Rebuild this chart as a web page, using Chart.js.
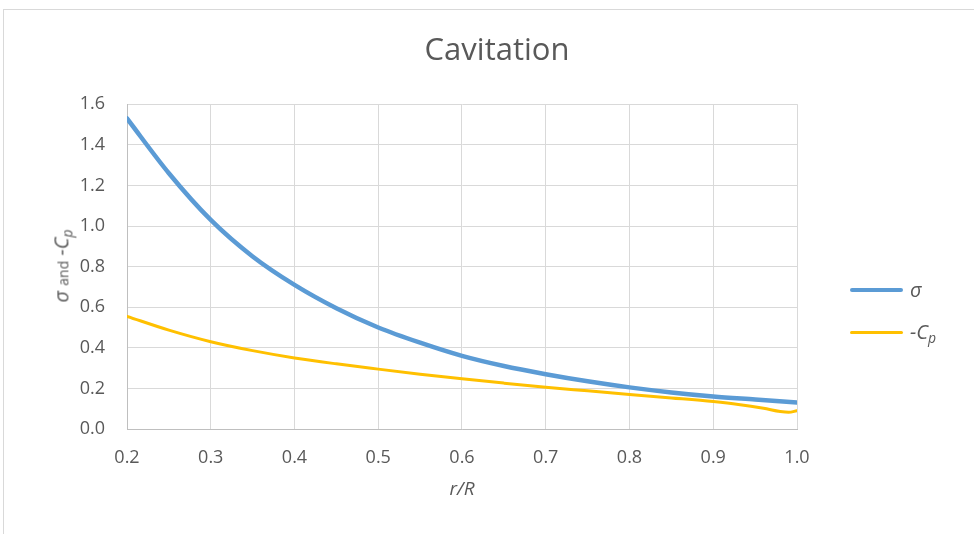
<!DOCTYPE html>
<html lang="en">
<head>
    <meta charset="UTF-8">
    <title>Cavitation</title>
    <script src="https://cdn.jsdelivr.net/npm/chart.js"></script>
    <style>
        * {
            margin: 0;
            padding: 0;
            box-sizing: border-box;
        }

        body {
            width: 974px;
            height: 534px;
            overflow: hidden;
            background: #fff;
            font-family: "Open Sans", sans-serif;
            color: #595959;
        }

        .frame {
            position: absolute;
            left: 3px;
            top: 9px;
            width: 1000px;
            height: 600px;
            border: 1px solid #d9d9d9;
        }

        .wrap {
            position: absolute;
            left: 0;
            top: 0;
            width: 974px;
            height: 534px;
        }

        .ytitle {
            position: absolute;
            left: 62px;
            top: 266px;
            transform: translate(-50%, -50%) rotate(-90deg);
            white-space: nowrap;
            font-size: 20px;
        }

        .ytitle .small { font-size: 14px; font-style: normal; }
        .it { font-style: italic; }
        sub { font-size: 0.7em; vertical-align: -0.3em; }

        .legend {
            position: absolute;
            left: 850px;
            top: 268px;
        }

        .legend .item {
            display: flex;
            align-items: center;
            height: 43px;
            font-size: 20px;
        }

        .legend .swatch {
            width: 53px;
            height: 4px;
            border-radius: 2px;
            margin-right: 7px;
        }
    </style>
</head>
<body>
    <div class="frame"></div>
    <div class="wrap"><canvas id="cavChart" width="974" height="534"></canvas></div>
    <div class="ytitle"><span class="it">σ</span> <span class="small">and</span> <span class="it">-C<sub>p</sub></span></div>
    <div class="legend">
        <div class="item"><div class="swatch" style="background:#5b9bd5"></div><span class="it">σ</span></div>
        <div class="item"><div class="swatch" style="background:#ffc000;height:3px"></div><span class="it">-C<sub>p</sub></span></div>
    </div>

    <script>
        // values
        const rR = [0.2, 0.25, 0.3, 0.35, 0.4, 0.45, 0.5, 0.55, 0.6, 0.65, 0.7, 0.75, 0.8, 0.85, 0.9, 0.95, 1.0];
        const sigma = [1.53, 1.26, 1.03, 0.85, 0.71, 0.595, 0.50, 0.425, 0.36, 0.31, 0.27, 0.235, 0.205, 0.18, 0.16, 0.145, 0.13];

        const rRcp = [0.2, 0.25, 0.3, 0.35, 0.4, 0.45, 0.5, 0.55, 0.6, 0.65, 0.7, 0.75, 0.8, 0.85, 0.9, 0.93, 0.96, 0.98, 0.99, 1.0];
        const minusCp = [0.555, 0.487, 0.43, 0.386, 0.35, 0.321, 0.295, 0.27, 0.247, 0.226, 0.206, 0.188, 0.17, 0.153, 0.135, 0.121, 0.102, 0.086, 0.082, 0.09];

        const xTicks = [0.2, 0.3, 0.4, 0.5, 0.6, 0.7, 0.8, 0.9, 1.0];
        const yTicks = [0, 0.2, 0.4, 0.6, 0.8, 1.0, 1.2, 1.4, 1.6];

        const tickFont = { family: 'Open Sans', size: 18 };

        const ctx = document.getElementById('cavChart').getContext('2d');
        new Chart(ctx, {
            type: 'line',
            data: {
                datasets: [{
                    label: 'σ',
                    data: rR.map((x, i) => ({ x: x, y: sigma[i] })),
                    borderColor: '#5b9bd5',
                    borderWidth: 4.5,
                    pointRadius: 0,
                    cubicInterpolationMode: 'monotone',
                    borderCapStyle: 'round'
                }, {
                    label: '-Cp',
                    data: rRcp.map((x, i) => ({ x: x, y: minusCp[i] })),
                    borderColor: '#ffc000',
                    borderWidth: 3,
                    pointRadius: 0,
                    cubicInterpolationMode: 'monotone',
                    borderCapStyle: 'round'
                }]
            },
            options: {
                responsive: false,
                animation: false,
                layout: { padding: { left: 20, right: 0, top: 0, bottom: 0 } },
                plugins: {
                    legend: { display: false },
                    tooltip: { enabled: false },
                    title: {
                        display: true,
                        text: 'Cavitation',
                        color: '#595959',
                        font: { family: 'Open Sans', size: 31, weight: 'normal' },
                        padding: { top: 33, bottom: 34 }
                    }
                },
                scales: {
                    x: {
                        type: 'linear',
                        min: 0.2,
                        max: 1.0,
                        afterBuildTicks: s => { s.ticks = xTicks.map(v => ({ value: v })); },
                        afterFit: s => { s.height = 105; },
                        ticks: {
                            color: '#595959',
                            font: tickFont,
                            padding: 18,
                            callback: v => v.toFixed(1)
                        },
                        grid: { color: '#d9d9d9', drawTicks: false },
                        border: { color: '#bfbfbf' },
                        title: {
                            display: true,
                            text: 'r/R',
                            color: '#595959',
                            font: { family: 'Open Sans', size: 19, style: 'italic' },
                            padding: { top: 4, bottom: 33 }
                        }
                    },
                    y: {
                        min: 0,
                        max: 1.6,
                        afterBuildTicks: s => { s.ticks = yTicks.map(v => ({ value: v })); },
                        afterFit: s => { s.width = 107; },
                        ticks: {
                            color: '#595959',
                            font: tickFont,
                            padding: 22,
                            callback: v => v.toFixed(1)
                        },
                        grid: { color: '#d9d9d9', drawTicks: false },
                        border: { color: '#bfbfbf' }
                    },
                    // blank right-hand box that leaves room for the legend
                    yRight: {
                        position: 'right',
                        display: true,
                        afterFit: s => { s.width = 177; },
                        ticks: { display: false },
                        grid: { display: false, drawTicks: false },
                        border: { display: false }
                    }
                }
            }
        });
    </script>
</body>
</html>
